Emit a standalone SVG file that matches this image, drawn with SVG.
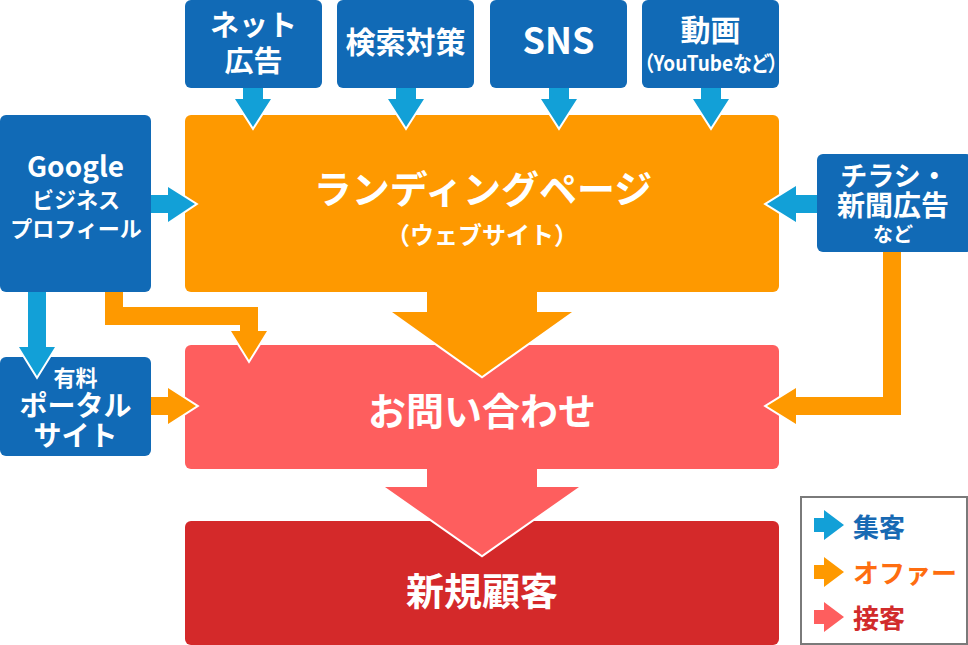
<svg xmlns="http://www.w3.org/2000/svg" width="968" height="645" viewBox="0 0 968 645">
<style>
text{font-family:"Noto Sans CJK JP","Noto Sans",sans-serif;font-weight:700;fill:#fff;text-anchor:middle}
.src{fill:#116ab6}
.lp{fill:#fe9900}
.inq{fill:#fe5e5e}
.cust{fill:#d4292a}
.ab{fill:#12a0d7}
.ao{fill:#fe9900}
.ap{fill:#fe5e5e}
.wo{fill:none;stroke:#fff;stroke-width:4;stroke-linejoin:miter}
.leg{text-anchor:start;font-size:26px}
.palt{font-feature-settings:"palt";text-anchor:start}
</style>
<rect width="968" height="645" fill="#fff"/>
<g id="lp"><rect class="lp" x="185" y="115" width="594" height="177" rx="6"/>
<text x="483" y="203" font-size="38">ランディングページ</text>
<text x="482" y="244" font-size="24">（ウェブサイト）</text></g>
<g id="inquiry"><rect class="inq" x="185" y="345" width="594" height="124" rx="6"/>
<text x="482" y="425" font-size="38">お問い合わせ</text></g>
<g id="customer"><rect class="cust" x="185" y="521" width="594" height="124" rx="6"/>
<text x="482" y="605" font-size="38">新規顧客</text></g>
<g id="net-ad"><rect class="src" x="185" y="0" width="137" height="88" rx="6"/>
<text x="253.5" y="36" font-size="29">ネット</text>
<text x="253.5" y="72" font-size="29">広告</text></g>
<g id="seo"><rect class="src" x="337" y="0" width="137" height="88" rx="6"/>
<text x="405.5" y="53" font-size="30">検索対策</text></g>
<g id="sns"><rect class="src" x="490" y="0" width="137" height="88" rx="6"/>
<text x="558.5" y="54" font-size="36">SNS</text></g>
<g id="video"><rect class="src" x="642" y="0" width="137" height="88" rx="6"/>
<text x="710.5" y="41" font-size="30">動画</text>
<text class="palt" x="644" y="71" font-size="21" textLength="134" lengthAdjust="spacingAndGlyphs">（YouTubeなど）</text></g>
<g id="google"><rect class="src" x="0" y="115" width="151" height="177" rx="6"/>
<text x="75.5" y="177" font-size="28">Google</text>
<text x="76" y="208" font-size="22">ビジネス</text>
<text x="76" y="237" font-size="22">プロフィール</text></g>
<g id="portal"><rect class="src" x="0" y="357" width="151" height="99" rx="6"/>
<text x="75.5" y="386" font-size="22">有料</text>
<text x="75.5" y="416" font-size="28">ポータル</text>
<text x="75.5" y="446" font-size="28">サイト</text></g>
<g id="flyer"><rect class="src" x="817" y="154" width="155" height="98" rx="6"/>
<text x="894" y="186" font-size="27">チラシ・</text>
<text x="893" y="216" font-size="28">新聞広告</text>
<text x="893" y="242" font-size="20">など</text></g>
<g id="connectors">
<polyline class="wo" points="235,99 253,127 271,99"/>
<polygon class="ab" points="243,88 263,88 263,99 271,99 253,127 235,99 243,99"/>
<polyline class="wo" points="388,99 406,127 424,99"/>
<polygon class="ab" points="396,88 416,88 416,99 424,99 406,127 388,99 396,99"/>
<polyline class="wo" points="541,99 559,127 577,99"/>
<polygon class="ab" points="549,88 569,88 569,99 577,99 559,127 541,99 549,99"/>
<polyline class="wo" points="693,99 711,127 729,99"/>
<polygon class="ab" points="701,88 721,88 721,99 729,99 711,127 693,99 701,99"/>
<polyline class="wo" points="168,187 195,204 168,222"/>
<polygon class="ab" points="151,195 168,195 168,187 195,204 168,222 168,213 151,213"/>
<polyline class="wo" points="796,186 767,204 796,222"/>
<polygon class="ab" points="817,195 796,195 796,186 767,204 796,222 796,213 817,213"/>
<polyline class="wo" points="19,347 37,376 55,347"/>
<polygon class="ab" points="28,292 46,292 46,347 55,347 37,376 19,347 28,347"/>
<polyline class="wo" points="231,331 249,360 267,331"/>
<polygon class="ao" points="105,292 123,292 123,307 258,307 258,331 267,331 249,360 231,331 240,331 240,325 105,325"/>
<polyline class="wo" points="168,388 196,406 168,424"/>
<polygon class="ao" points="151,397 168,397 168,388 196,406 168,424 168,415 151,415"/>
<polyline class="wo" points="796,388 767,406 796,424"/>
<polygon class="ao" points="883,252 901,252 901,415 796,415 796,424 767,406 796,388 796,397 883,397"/>
<polyline class="wo" points="392,312 482,376 572,312"/>
<polygon class="ao" points="427,292 537,292 537,312 572,312 482,376 392,312 427,312"/>
<polyline class="wo" points="385,487 482,555 579,487"/>
<polygon class="ap" points="427,469 537,469 537,487 579,487 482,555 385,487 427,487"/>
</g>
<g id="legend">
<rect x="801" y="497" width="166" height="147" fill="#fff" stroke="#7a7a7a" stroke-width="2"/>
<polygon class="ab" points="814,518 824,518 824,510 844,525 824,540 824,532 814,532"/>
<text class="leg" x="853" y="537" style="fill:#1769b3">集客</text>
<polygon class="ao" points="814,565 824,565 824,557 844,572 824,587 824,579 814,579"/>
<text class="leg" x="853" y="583" style="fill:#fe6d10">オファー</text>
<polygon class="ap" points="814,610 824,610 824,602 844,617 824,632 824,624 814,624"/>
<text class="leg" x="853" y="628" style="fill:#d12b2b">接客</text>
</g>
</svg>
